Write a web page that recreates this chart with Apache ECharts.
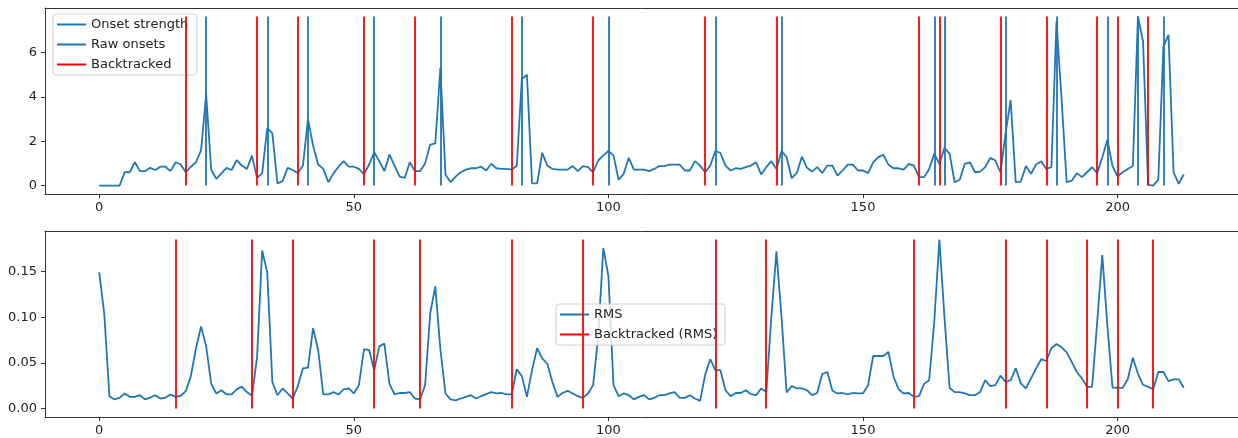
<!DOCTYPE html>
<html>
<head>
<meta charset="utf-8">
<script src="https://cdn.jsdelivr.net/npm/echarts@6/dist/echarts.min.js"></script>
<style>
  html, body { margin: 0; padding: 0; background: #fff; }
  #chart { width: 1238px; height: 438px; }
</style>
</head>
<body>
<div id="chart"></div>
<script>
// onset strength per frame (frames 0..213)
var onsetStrength = [
  0, 0, 0, 0, 0, 0.6, 0.6, 1.05, 0.65, 0.65,
  0.8, 0.7, 0.85, 0.85, 0.65, 1.05, 0.95, 0.6, 0.85, 1.05,
  1.6, 4.1, 0.7, 0.3, 0.55, 0.8, 0.7, 1.15, 0.9, 0.75,
  1.35, 0.35, 0.55, 2.6, 2.35, 0.1, 0.2, 0.8, 0.7, 0.55,
  0.9, 3.0, 1.8, 0.95, 0.75, 0.15, 0.55, 0.85, 1.1, 0.85,
  0.85, 0.75, 0.5, 0.95, 1.5, 1.1, 0.65, 1.4, 0.9, 0.4,
  0.35, 1.05, 0.65, 0.65, 1.0, 1.85, 1.9, 5.3, 0.5, 0.15,
  0.4, 0.6, 0.72, 0.78, 0.78, 0.85, 0.68, 0.98, 0.78, 0.75,
  0.75, 0.72, 0.88, 4.8, 5.0, 0.1, 0.1, 1.48, 0.9, 0.75,
  0.72, 0.72, 0.72, 0.88, 0.65, 0.88, 0.83, 0.6, 1.13, 1.36,
  1.56, 1.36, 0.27, 0.53, 1.25, 0.72, 0.72, 0.72, 0.65, 0.75,
  0.88, 0.88, 0.94, 0.94, 0.94, 0.68, 0.68, 1.1, 0.9, 0.6,
  0.9, 1.56, 1.47, 0.9, 0.68, 0.78, 0.75, 0.83, 0.9, 1.05,
  0.5, 0.83, 1.1, 0.75, 1.56, 1.28, 0.33, 0.57, 1.3, 0.8,
  0.63, 0.83, 0.57, 0.9, 0.9, 0.45, 0.68, 0.94, 0.94, 0.68,
  0.68, 0.56, 1.05, 1.28, 1.39, 0.94, 0.78, 0.78, 0.72, 0.98,
  0.9, 0.38, 0.38, 0.75, 1.44, 0.98, 1.7, 1.44, 0.15, 0.26,
  0.98, 1.05, 0.6, 0.63, 0.83, 1.25, 1.13, 0.6, 2.35, 3.85,
  0.15, 0.18, 0.88, 0.53, 0.95, 1.1, 0.75, 0.83, 7.4, 3.9,
  0.15, 0.22, 0.56, 0.38, 0.6, 0.83, 0.56, 1.28, 2.07, 0.88,
  0.42, 0.6, 0.75, 0.88, 7.63, 6.5, 0.03, 0, 0.27, 6.27,
  6.8, 0.6, 0.08, 0.5
];
var rawOnsets = [21, 33, 41, 54, 67, 83, 100, 121, 134, 164, 166, 178, 188, 198, 204, 209];
var backtracked = [17, 31, 39, 52, 62, 81, 97, 119, 133, 161, 165, 177, 186, 196, 200, 206];

// rms energy per frame
var rms = [
  0.149, 0.103, 0.0135, 0.010, 0.0117, 0.0165, 0.0128, 0.0128, 0.0146, 0.010,
  0.012, 0.0146, 0.011, 0.012, 0.0154, 0.0128, 0.014, 0.019, 0.0355, 0.066,
  0.0897, 0.068, 0.027, 0.0165, 0.020, 0.0154, 0.0154, 0.021, 0.024, 0.018,
  0.014, 0.056, 0.173, 0.149, 0.029, 0.0146, 0.022, 0.0165, 0.011, 0.0245,
  0.044, 0.0447, 0.088, 0.064, 0.0154, 0.0154, 0.018, 0.0154, 0.021, 0.022,
  0.0165, 0.0256, 0.065, 0.064, 0.042, 0.068, 0.071, 0.027, 0.0154, 0.017,
  0.017, 0.018, 0.011, 0.010, 0.0256, 0.104, 0.1336, 0.065, 0.0165, 0.010,
  0.009, 0.011, 0.0128, 0.0146, 0.011, 0.0135, 0.0157, 0.018, 0.0165, 0.017,
  0.0154, 0.0154, 0.043, 0.0355, 0.0128, 0.042, 0.066, 0.055, 0.049, 0.029,
  0.0128, 0.017, 0.0194, 0.0165, 0.0135, 0.0117, 0.0165, 0.0256, 0.079, 0.1757,
  0.145, 0.0256, 0.0135, 0.0165, 0.0146, 0.010, 0.0128, 0.0146, 0.010, 0.0117,
  0.0146, 0.0146, 0.0165, 0.018, 0.0117, 0.0117, 0.0146, 0.011, 0.0084, 0.0366,
  0.054, 0.042, 0.042, 0.020, 0.0135, 0.017, 0.017, 0.020, 0.0157, 0.0146,
  0.022, 0.018, 0.10, 0.172, 0.10, 0.0176, 0.0245, 0.022, 0.022, 0.020,
  0.0146, 0.017, 0.0377, 0.040, 0.0194, 0.0165, 0.017, 0.0154, 0.017, 0.0165,
  0.0165, 0.0256, 0.0575, 0.0575, 0.0575, 0.062, 0.0348, 0.021, 0.0165, 0.017,
  0.0128, 0.0135, 0.027, 0.031, 0.095, 0.185, 0.10, 0.0227, 0.018, 0.018,
  0.0165, 0.0146, 0.0146, 0.018, 0.031, 0.0245, 0.0256, 0.036, 0.029, 0.031,
  0.044, 0.0275, 0.022, 0.033, 0.044, 0.054, 0.052, 0.066, 0.0706, 0.067,
  0.0615, 0.051, 0.040, 0.033, 0.0238, 0.0238, 0.095, 0.168, 0.09, 0.023,
  0.0227, 0.0227, 0.032, 0.0556, 0.038, 0.026, 0.0238, 0.021, 0.040, 0.040,
  0.030, 0.032, 0.032, 0.0227
];
var backtrackedRms = [15, 30, 38, 54, 63, 81, 95, 121, 131, 160, 178, 186, 194, 200, 207];

var xTicks = [0, 50, 100, 150, 200];
var onsetTicks = [0, 2, 4, 6];
var rmsTicks = [0, 0.05, 0.10, 0.15];

var BLUE = '#1f77b4';
var RED = '#ff0000';
var FONT = 'DejaVu Sans';

function pairs(arr) {
  return arr.map(function (v, i) { return [i, v]; });
}
function vlines(xs, top) {
  return xs.map(function (x) { return [{ coord: [x, 0] }, { coord: [x, top] }]; });
}

var oMax = Math.max.apply(null, onsetStrength);
var rMax = Math.max.apply(null, rms);
var n = onsetStrength.length - 1;
var xPad = n * 0.05;

function xAxisCfg(idx) {
  return {
    type: 'value', gridIndex: idx, position: 'bottom',
    min: -xPad, max: n + xPad,
    splitLine: { show: false },
    axisLine: { onZero: false, lineStyle: { color: '#333', width: 1 } },
    axisTick: { length: 4, lineStyle: { color: '#333' }, customValues: xTicks },
    axisLabel: { customValues: xTicks, color: '#222', fontFamily: FONT, fontSize: 13, margin: 7 }
  };
}
// plain top spine, the right spine sits outside the window
function topSpine(idx) {
  return {
    type: 'value', gridIndex: idx, position: 'top',
    min: -xPad, max: n + xPad,
    splitLine: { show: false },
    axisLine: { onZero: false, lineStyle: { color: '#333', width: 1 } },
    axisTick: { show: false },
    axisLabel: { show: false }
  };
}
function yAxisCfg(idx, maxV, ticks, fmt) {
  var pad = maxV * 0.05;
  return {
    type: 'value', gridIndex: idx,
    min: -pad, max: maxV + pad,
    splitLine: { show: false },
    axisLine: { onZero: false, lineStyle: { color: '#333', width: 1 } },
    axisTick: { length: 4, lineStyle: { color: '#333' }, customValues: ticks },
    axisLabel: { customValues: ticks, color: '#222', fontFamily: FONT, fontSize: 13, margin: 8, formatter: fmt }
  };
}
function vlineSeries(name, xs, top, color, xi, yi) {
  return {
    name: name, type: 'line', xAxisIndex: xi, yAxisIndex: yi,
    data: [], color: color, z: 3, silent: true,
    markLine: {
      symbol: ['none', 'none'], silent: true, animation: false,
      label: { show: false },
      lineStyle: { color: color, width: 1.8, type: 'solid' },
      emphasis: { disabled: true },
      data: vlines(xs, top)
    }
  };
}

function legendBox(left, top, textW, names) {
  return {
    orient: 'vertical', left: left, top: top, data: names,
    icon: 'rect', itemWidth: 29, itemHeight: 2, itemGap: 5, itemTextGap: 10,
    backgroundColor: 'rgba(255,255,255,0.8)',
    borderColor: '#d0d0d0', borderWidth: 1, borderRadius: 3,
    padding: [3, 5, 3, 4],
    textStyle: { fontFamily: FONT, fontSize: 13, lineHeight: 15, color: '#222', width: textW }
  };
}

var option = {
  backgroundColor: '#fff',
  animation: false,
  grid: [
    { left: 45, top: 8, width: 1198, height: 186 },
    { left: 45, top: 231, width: 1198, height: 186 }
  ],
  legend: [
    legendBox(53, 14, 101, ['Onset strength', 'Raw onsets', 'Backtracked']),
    legendBox(556, 304, 126, ['RMS', 'Backtracked (RMS)'])
  ],
  xAxis: [xAxisCfg(0), xAxisCfg(1), topSpine(0), topSpine(1)],
  yAxis: [
    yAxisCfg(0, oMax, onsetTicks),
    yAxisCfg(1, rMax, rmsTicks, function (v) { return v.toFixed(2); })
  ],
  series: [
    {
      name: 'Onset strength', type: 'line', xAxisIndex: 0, yAxisIndex: 0,
      data: pairs(onsetStrength), showSymbol: false, color: BLUE,
      lineStyle: { width: 1.8, color: BLUE }, z: 2
    },
    vlineSeries('Raw onsets', rawOnsets, oMax, BLUE, 0, 0),
    vlineSeries('Backtracked', backtracked, oMax, RED, 0, 0),
    {
      name: 'RMS', type: 'line', xAxisIndex: 1, yAxisIndex: 1,
      data: pairs(rms), showSymbol: false, color: BLUE,
      lineStyle: { width: 1.8, color: BLUE }, z: 2
    },
    vlineSeries('Backtracked (RMS)', backtrackedRms, rMax, RED, 1, 1)
  ]
};

var chart = echarts.init(document.getElementById('chart'));
chart.setOption(option);
</script>
</body>
</html>
